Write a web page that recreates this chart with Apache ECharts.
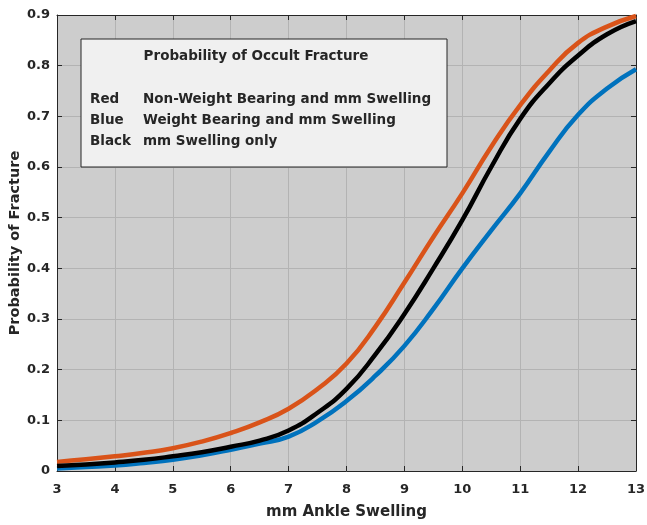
<!DOCTYPE html>
<html>
<head>
<meta charset="utf-8">
<script src="https://cdn.jsdelivr.net/npm/echarts@6/dist/echarts.min.js"></script>
<style>html,body{margin:0;padding:0;background:#fff;}#c{width:647px;height:525px;}</style>
</head>
<body>
<div id="c"></div>
<script>
var swelling = [3,3.5,4,4.5,5,5.5,6,6.5,7,7.5,8,8.5,9,9.5,10,10.5,11,11.5,12,12.5,13];
var redNonWeight = [0.018,0.023,0.029,0.036,0.045,0.058,0.075,0.096,0.123,0.162,0.212,0.285,0.372,0.462,0.548,0.640,0.722,0.790,0.845,0.877,0.898];
var blueWeight = [0.005,0.008,0.011,0.016,0.022,0.031,0.042,0.054,0.068,0.098,0.138,0.188,0.247,0.320,0.400,0.475,0.548,0.630,0.703,0.755,0.793];
var blackOnly = [0.010,0.013,0.017,0.022,0.029,0.037,0.048,0.060,0.080,0.115,0.162,0.230,0.310,0.400,0.495,0.600,0.695,0.765,0.820,0.862,0.888];
var legendTitle = 'Probability of Occult Fracture';
var legendRows = [['Red','Non-Weight Bearing and mm Swelling'],['Blue','Weight Bearing and mm Swelling'],['Black','mm Swelling only']];

function pairs(ys){ return swelling.map(function(x,i){ return [x, ys[i]]; }); }
var font = '"DejaVu Sans", "Liberation Sans", Arial, sans-serif';
var axisCol = '#262626';
var chart = echarts.init(document.getElementById('c'));
var gridLine = {show:true, lineStyle:{color:'#b3b3b3', width:1}};
var legendGraphics = [{
  type:'rect', shape:{x:81, y:39, width:366, height:128},
  style:{fill:'#f0f0f0', stroke:axisCol, lineWidth:1}, z:100
},{
  type:'text', x:256, y:56, style:{text:legendTitle, font:'bold 13.5px '+font, fill:'#262626', align:'center', verticalAlign:'middle'}, z:101
}];
var rowsY = [99, 120, 141];
legendRows.forEach(function(r,i){
  legendGraphics.push({type:'text', x:90, y:rowsY[i], style:{text:r[0], font:'bold 13.5px '+font, fill:'#262626', verticalAlign:'middle'}, z:101});
  legendGraphics.push({type:'text', x:143, y:rowsY[i], style:{text:r[1], font:'bold 13.5px '+font, fill:'#262626', verticalAlign:'middle'}, z:101});
});
chart.setOption({
  animation:false,
  backgroundColor:'#ffffff',
  grid:{left:57, right:11, top:15, bottom:54, show:true, backgroundColor:'#cdcdcd', borderWidth:0, containLabel:false, outerBoundsMode:'none'},
  xAxis:[{
    type:'value', min:3, max:13, interval:1, position:'bottom',
    name:'mm Ankle Swelling', nameLocation:'middle', nameGap:34, nameMoveOverlap:false,
    nameTextStyle:{fontFamily:font, fontWeight:'bold', fontSize:15, color:axisCol},
    axisLine:{show:true, onZero:false, lineStyle:{color:axisCol, width:1}},
    axisTick:{show:true, inside:true, length:5, lineStyle:{color:axisCol}},
    axisLabel:{fontFamily:font, fontWeight:'bold', fontSize:13, color:axisCol, margin:12},
    splitLine:gridLine
  },{
    type:'value', min:3, max:13, interval:1, position:'top',
    axisLine:{show:true, onZero:false, lineStyle:{color:axisCol, width:1}},
    axisTick:{show:true, inside:true, length:5, lineStyle:{color:axisCol}},
    axisLabel:{show:false}, splitLine:{show:false}
  }],
  yAxis:[{
    type:'value', min:0, max:0.9, interval:0.1, position:'left',
    name:'Probability of Fracture', nameLocation:'middle', nameGap:34, nameRotate:90, nameMoveOverlap:false,
    nameTextStyle:{fontFamily:font, fontWeight:'bold', fontSize:14.5, color:axisCol},
    axisLine:{show:true, onZero:false, lineStyle:{color:axisCol, width:1}},
    axisTick:{show:true, inside:true, length:5, lineStyle:{color:axisCol}},
    axisLabel:{fontFamily:font, fontWeight:'bold', fontSize:13, color:axisCol, margin:7,
      formatter:function(v){ return String(+v.toFixed(1)); }},
    splitLine:gridLine
  },{
    type:'value', min:0, max:0.9, interval:0.1, position:'right',
    axisLine:{show:true, onZero:false, lineStyle:{color:axisCol, width:1}},
    axisTick:{show:true, inside:true, length:5, lineStyle:{color:axisCol}},
    axisLabel:{show:false}, splitLine:{show:false}
  }],
  series:[
    {type:'line', name:'Red', data:pairs(redNonWeight), smooth:true, showSymbol:false, symbol:'none', lineStyle:{color:'#d95319', width:4.5}, z:3},
    {type:'line', name:'Blue', data:pairs(blueWeight), smooth:true, showSymbol:false, symbol:'none', lineStyle:{color:'#0072bd', width:4.5}, z:4},
    {type:'line', name:'Black', data:pairs(blackOnly), smooth:true, showSymbol:false, symbol:'none', lineStyle:{color:'#000000', width:4.5}, z:5}
  ],
  graphic:legendGraphics
});
</script>
</body>
</html>
